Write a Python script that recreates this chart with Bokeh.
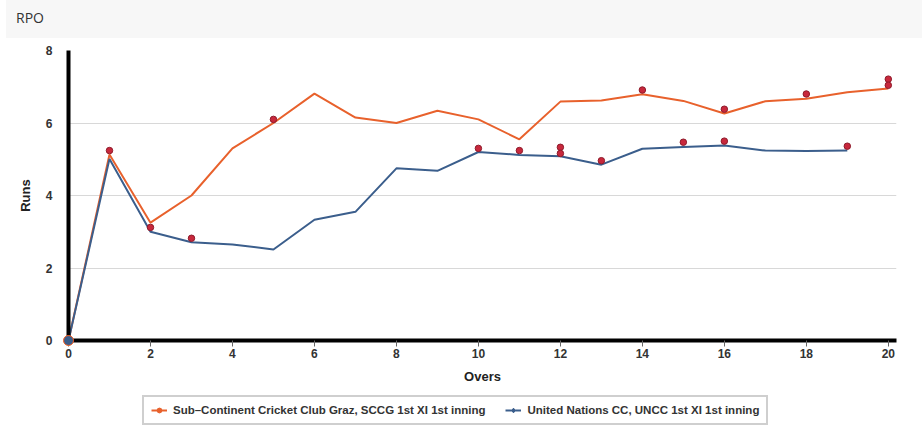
from bokeh.plotting import figure
from bokeh.models import (Range1d, FixedTicker, Legend, LegendItem, Div)
from bokeh.layouts import column
from bokeh.embed import file_html
from bokeh.resources import INLINE

title_text = "RPO"
x_label = "Overs"
y_label = "Runs"
name_sccg = "Sub\u2013Continent Cricket Club Graz, SCCG 1st XI 1st inning"
name_uncc = "United Nations CC, UNCC 1st XI 1st inning"

overs_sccg = list(range(0, 21))
rpo_sccg = [0, 5.13, 3.25, 4.0, 5.3, 6.0, 6.81, 6.15, 6.0, 6.34, 6.1,
            5.55, 6.59, 6.62, 6.79, 6.61, 6.26, 6.6, 6.67, 6.85, 6.95]
overs_uncc = list(range(0, 20))
rpo_uncc = [0, 5.01, 3.0, 2.71, 2.65, 2.51, 3.33, 3.55, 4.75, 4.68, 5.2,
            5.12, 5.08, 4.85, 5.29, 5.34, 5.38, 5.24, 5.23, 5.24]

wk_overs = [1, 2, 3, 5, 10, 11, 12, 12, 13, 14, 15, 16, 16, 18, 19, 20, 20]
wk_rpo = [5.24, 3.12, 2.82, 6.10, 5.30, 5.24, 5.33, 5.16, 4.96, 6.91, 5.47,
          6.38, 5.50, 6.80, 5.36, 7.21, 7.04]

x_ticks = list(range(0, 21, 2))
y_ticks = [0, 2, 4, 6, 8]

ORANGE = "#e8612c"
BLUE = "#3b5e8c"
FONT = "Liberation Sans"

header = Div(
    text=('<div style="background:#f7f7f7;height:38px;width:916px;box-sizing:border-box;'
          'padding:0 10px;font-family:\'Open Sans\';font-size:14px;color:#333;'
          'line-height:36px">' + title_text + '</div>'),
    width=916, height=38, margin=(0, 0, 0, 6))

p = figure(width=922, height=352, output_backend="svg", toolbar_location=None,
           x_range=Range1d(0, 20.2), y_range=Range1d(0, 8),
           min_border_left=68, min_border_right=26, min_border_top=12,
           min_border_bottom=50)
p.outline_line_color = None
p.background_fill_color = "white"
p.border_fill_color = "white"

p.xgrid.grid_line_color = None
p.ygrid.grid_line_color = "#d8d8d8"
p.ygrid.grid_line_width = 1

p.xaxis.ticker = FixedTicker(ticks=x_ticks)
p.yaxis.ticker = FixedTicker(ticks=y_ticks)
for ax in (p.xaxis, p.yaxis):
    ax.axis_line_color = "black"
    ax.axis_line_width = 4
    ax.minor_tick_line_color = None
    ax.major_label_text_font = FONT
    ax.major_label_text_font_style = "bold"
    ax.major_label_text_font_size = "12px"
    ax.major_label_text_color = "#333333"
    ax.axis_label_text_font = FONT
    ax.axis_label_text_font_style = "bold"
    ax.axis_label_text_font_size = "13px"
    ax.axis_label_text_color = "#222222"

p.xaxis.major_tick_line_color = "#666666"
p.xaxis.major_tick_in = 0
p.xaxis.major_tick_out = 6
p.xaxis.major_label_standoff = 2
p.xaxis.axis_label = x_label
p.xaxis.axis_label_standoff = 8

p.yaxis.major_tick_line_color = None
p.yaxis.major_tick_in = 0
p.yaxis.major_tick_out = 0
p.yaxis.major_label_standoff = 16
p.yaxis.axis_label = y_label
p.yaxis.axis_label_standoff = 10

p.line(overs_sccg, rpo_sccg, line_color=ORANGE, line_width=2)
p.line(overs_uncc, rpo_uncc, line_color=BLUE, line_width=2)

p.scatter([overs_sccg[0]], [rpo_sccg[0]], size=10, marker="circle",
          fill_color=ORANGE, line_color=ORANGE, level="overlay")
p.scatter([overs_uncc[0]], [rpo_uncc[0]], size=8, marker="circle",
          fill_color=BLUE, line_color=BLUE, level="overlay")

p.scatter(wk_overs, wk_rpo, size=6.5, marker="circle", fill_color="#c8283c",
          line_color="#8e1b2b", line_width=1)

# legend strip below the chart (series drawn off-screen, only for legend glyphs)
lg = figure(width=922, height=40, output_backend="svg", toolbar_location=None,
            x_range=Range1d(1000, 1001), y_range=Range1d(1000, 1001),
            x_axis_location=None, y_axis_location=None, min_border=0)
lg.outline_line_color = None
lg.xgrid.grid_line_color = None
lg.ygrid.grid_line_color = None
l1 = lg.line(overs_sccg, rpo_sccg, line_color=ORANGE, line_width=2)
m1 = lg.scatter(overs_sccg, rpo_sccg, size=8, marker="circle",
                fill_color=ORANGE, line_color=ORANGE)
l2 = lg.line(overs_uncc, rpo_uncc, line_color=BLUE, line_width=2)
m2 = lg.scatter(overs_uncc, rpo_uncc, size=8, marker="diamond",
                fill_color=BLUE, line_color=BLUE)

legend = Legend(items=[LegendItem(label=name_sccg, renderers=[l1, m1]),
                       LegendItem(label=name_uncc, renderers=[l2, m2])],
                orientation="horizontal", location=(74, 5))
legend.label_text_font = FONT
legend.label_text_font_style = "bold"
legend.label_text_font_size = "11.5px"
legend.label_text_color = "#333333"
legend.glyph_width = 16
legend.glyph_height = 12
legend.label_standoff = 6
legend.spacing = 20
legend.padding = 7
legend.margin = 0
legend.border_line_color = "#a0a0a0"
legend.border_line_width = 2
legend.background_fill_color = "white"
legend.background_fill_alpha = 1.0
lg.add_layout(legend, "center")

layout = column(header, p, lg, spacing=0)
open("out.html", "w").write(file_html(layout, INLINE))
